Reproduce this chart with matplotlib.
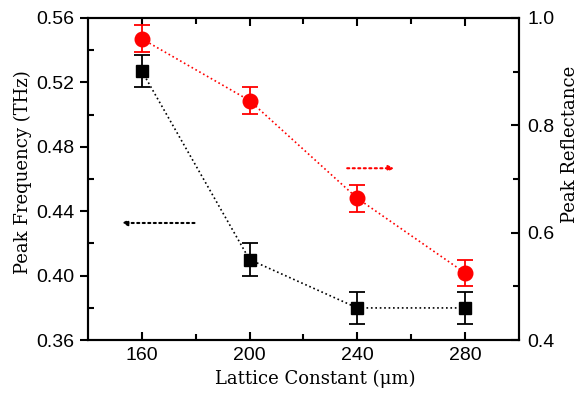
import matplotlib
matplotlib.use("Agg")
import matplotlib.pyplot as plt

lattice = [160, 200, 240, 280]
freq = [0.527, 0.410, 0.380, 0.380]
freq_err = [0.010, 0.010, 0.010, 0.010]
refl = [0.961, 0.846, 0.664, 0.525]
refl_err = [0.025, 0.025, 0.025, 0.025]

xticks = [160, 200, 240, 280]
yticks_left = [0.36, 0.40, 0.44, 0.48, 0.52, 0.56]
yticks_right = [0.4, 0.6, 0.8, 1.0]

fig = plt.figure(figsize=(5.78, 3.96), dpi=100)
ax = fig.add_axes([0.152, 0.141, 0.746, 0.814])
ax2 = ax.twinx()

ax.errorbar(lattice, freq, yerr=freq_err, fmt='s', color='black', ms=8.5,
            capsize=6, elinewidth=1.3, capthick=1.3, zorder=3)
ax.plot(lattice, freq, ls=':', color='black', lw=1.2, zorder=2)
ax2.errorbar(lattice, refl, yerr=refl_err, fmt='o', color='#ff0000', ms=10.5,
             capsize=6, elinewidth=1.3, capthick=1.3, zorder=3)
ax2.plot(lattice, refl, ls=':', color='#ff0000', lw=1.2, zorder=2)

ax.annotate('', xy=(151.5, 0.4327), xytext=(180.6, 0.4327),
            arrowprops=dict(arrowstyle='-|>', ls=':', color='black', lw=1.5,
                            mutation_scale=8))
ax2.annotate('', xy=(254.7, 0.72), xytext=(235.2, 0.72),
             arrowprops=dict(arrowstyle='-|>', ls=':', color='#ff0000', lw=1.5,
                             mutation_scale=8))

ax.set_xlim(140, 300)
ax.set_ylim(0.36, 0.56)
ax2.set_ylim(0.4, 1.0)
ax.set_xticks(xticks)
ax.set_xticks([180, 220, 260], minor=True)
ax.set_yticks(yticks_left)
ax.set_yticklabels([f"{v:.2f}" for v in yticks_left])
ax.set_yticks([0.38, 0.42, 0.46, 0.50, 0.54], minor=True)
ax2.set_yticks(yticks_right)
ax2.set_yticklabels([f"{v:.1f}" for v in yticks_right])
ax2.set_yticks([0.5, 0.7, 0.9], minor=True)

for a in (ax, ax2):
    for s in a.spines.values():
        s.set_linewidth(1.5)

ax.tick_params(axis='x', which='both', direction='in', top=True, width=1.5, pad=5,
               labelsize=14, labelfontfamily='Liberation Sans')
ax.tick_params(axis='x', which='major', length=6)
ax.tick_params(axis='x', which='minor', length=4)
ax.tick_params(axis='y', which='major', direction='out', length=6, width=1.5,
               labelsize=14, labelfontfamily='Liberation Sans')
ax.tick_params(axis='y', which='minor', direction='in', length=4, width=1.5)
ax2.tick_params(axis='y', which='major', direction='in', length=6, width=1.5, pad=6,
                labelsize=14, labelfontfamily='Liberation Sans')
ax2.tick_params(axis='y', which='minor', direction='in', length=4, width=1.5)

lab_font = dict(family='DejaVu Serif', fontsize=13)
ax.set_xlabel('Lattice Constant (\u03bcm)', **lab_font)
ax.set_ylabel('Peak Frequency (THz)', **lab_font)
ax2.set_ylabel('Peak Reflectance', **lab_font)
ax.xaxis.set_label_coords(0.527, -0.093)
ax.yaxis.set_label_coords(-0.130, 0.52)
ax2.yaxis.set_label_coords(1.097, 0.606)

fig.savefig('out.png', dpi=100)
